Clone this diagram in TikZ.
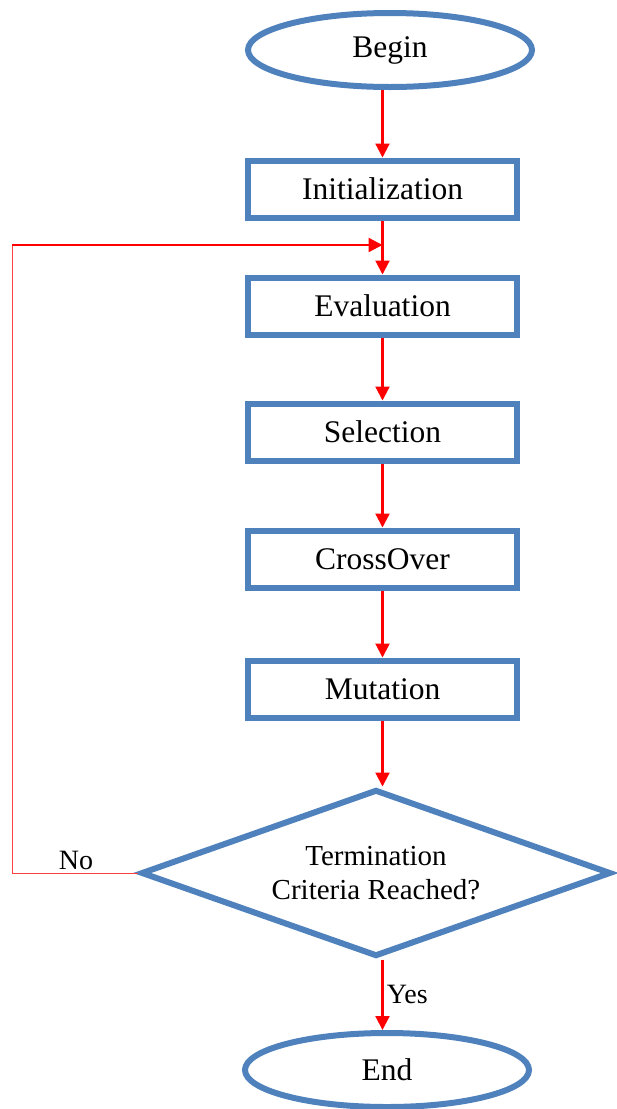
\documentclass[tikz,border=0pt]{standalone}
\usepackage{fontspec}
\setmainfont{Liberation Serif}
\usetikzlibrary{shapes.geometric,arrows.meta}

\definecolor{boxblue}{RGB}{79,129,189}

\tikzset{
    terminal/.style={ellipse, draw=boxblue, line width=6pt, minimum width=284pt, minimum height=74pt, font=\fontsize{31.5}{36}\selectfont},
    process/.style={rectangle, draw=boxblue, line width=6pt, minimum width=269pt, minimum height=57pt, font=\fontsize{31.5}{36}\selectfont},
    decision/.style={diamond, draw=boxblue, line width=6pt, aspect=2.8, minimum width=470pt, minimum height=167pt, inner sep=0pt, align=center, font=\fontsize{29}{34}\selectfont},
    flow/.style={red, line width=2.2pt, -{Triangle[width=14pt,length=14pt]}},
}

\begin{document}
\begin{tikzpicture}[x=1pt,y=-1pt]
    \useasboundingbox (0,0) rectangle (617,1109);

    \node [terminal] (begin) at (390,50) {Begin};
    \node [process] (init) at (382.5,189) {Initialization};
    \node [process] (eval) at (382.5,306) {Evaluation};
    \node [process] (sel) at (382.5,432) {Selection};
    \node [process] (cross) at (382.5,559) {CrossOver};
    \node [process] (mut) at (382.5,689) {Mutation};
    \node [decision] (term) at (376,873) {Termination\\Criteria Reached?};
    \node [terminal] (end) at (387,1070) {End};

    \draw [flow] (begin.south -| init.north) -- (init.north);
    \draw [flow] (init) -- (eval);
    \draw [flow] (eval) -- (sel);
    \draw [flow] (sel) -- (cross);
    \draw [flow] (cross) -- (mut);
    \draw [flow] (mut.south) -- (mut.south |- term.north);
    \draw [flow] (term.south -| mut.south) -- (end.north -| mut.south)
        node [midway, right, text=black, font=\fontsize{28}{32}\selectfont] {Yes};

    % loop back for the No branch
    \coordinate (corner) at (12,245);
    \coordinate (join) at (382.5,245);
    \draw [red!75, line width=1pt] (term.west) -- (term.west -| corner) -- (corner);
    \draw [flow] (corner) -- (join);
    \node [font=\fontsize{28}{32}\selectfont] (no) at (76,860) {No};

\end{tikzpicture}
\end{document}
